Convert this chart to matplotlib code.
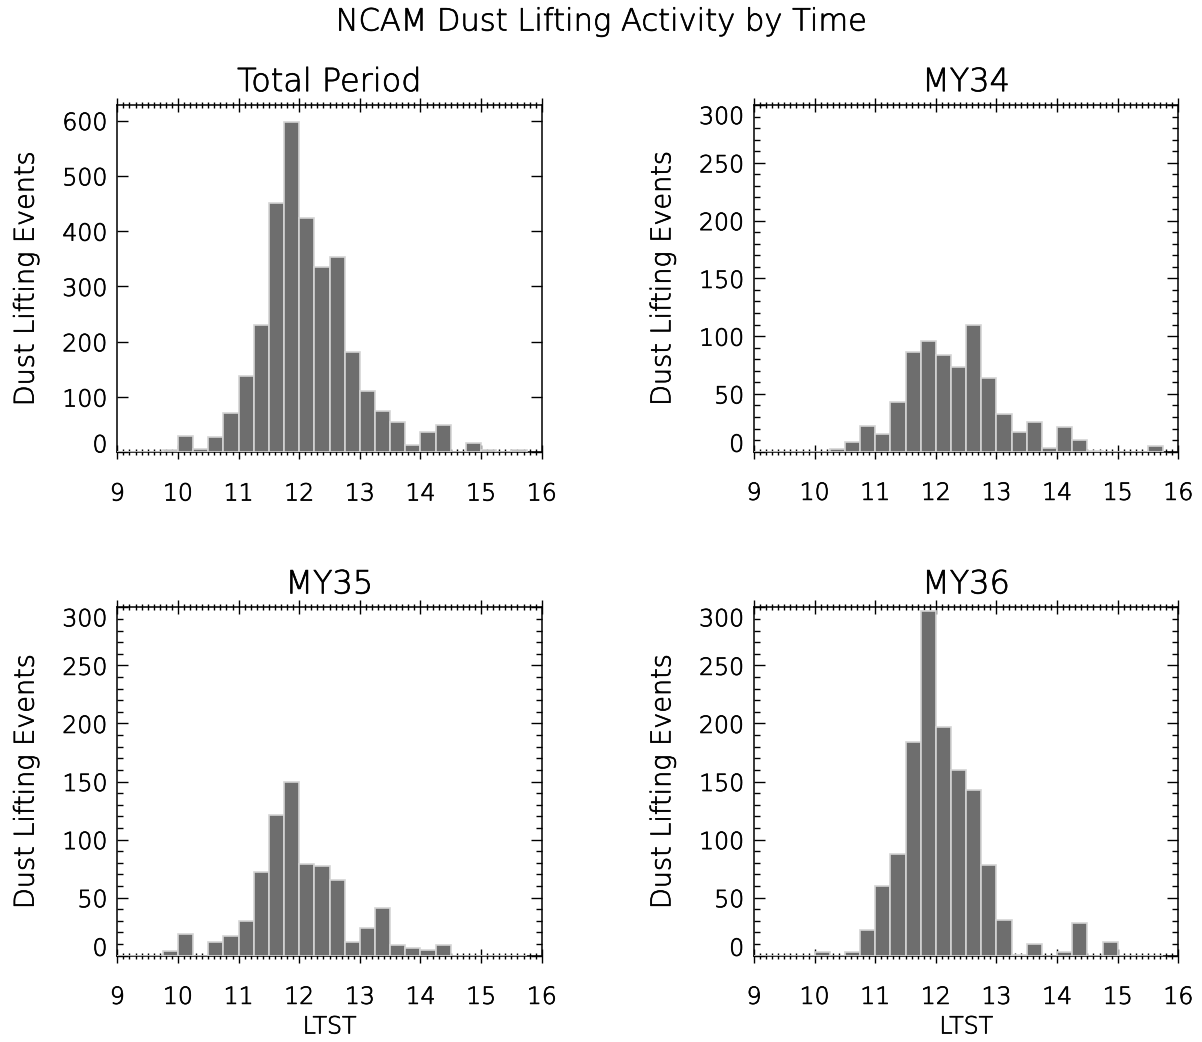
import matplotlib
matplotlib.use('Agg')
import matplotlib.pyplot as plt
import matplotlib.patheffects as pe
from matplotlib.ticker import MultipleLocator

# quarter-hour bins (bin start, LTST hours)
bin_starts = [9.0, 9.25, 9.5, 9.75, 10.0, 10.25, 10.5, 10.75, 11.0, 11.25,
              11.5, 11.75, 12.0, 12.25, 12.5, 12.75, 13.0, 13.25, 13.5, 13.75,
              14.0, 14.25, 14.5, 14.75, 15.0, 15.25, 15.5]

# event counts per bin
total = [0, 0, 0, 4, 30, 6, 28, 72, 138, 230,
         451, 598, 424, 336, 354, 181, 111, 75, 55, 14,
         36, 49, 1, 17, 5, 0, 5]
my34 = [0, 0, 0, 0, 0, 2, 8, 22, 15, 43,
        86, 96, 84, 73, 110, 64, 33, 17, 26, 3,
        21, 10, 1, 0, 0, 0, 5]
my35 = [0, 0, 0, 4, 19, 0, 12, 17, 30, 72,
        121, 150, 79, 77, 65, 12, 24, 41, 9, 7,
        5, 9, 0, 0, 0, 0, 0]
my36 = [0, 0, 0, 0, 3, 0, 3, 22, 60, 88,
        184, 297, 197, 160, 143, 78, 31, 1, 10, 0,
        3, 28, 0, 12, 0, 0, 0]

titles = ['Total Period', 'MY34', 'MY35', 'MY36']
series = [total, my34, my35, my36]
ymax = [628, 300, 300, 300]
ystep = [100, 50, 50, 50]

plt.rcParams['font.family'] = ['DejaVu Sans']
plt.rcParams['font.weight'] = 'light'
plt.rcParams['axes.titleweight'] = 'light'
plt.rcParams['axes.labelweight'] = 'light'

# thin Hershey-like strokes, darkened a bit
ink = [pe.withStroke(linewidth=0.5, foreground='black')]

fig = plt.figure(figsize=(12.02, 10.42), dpi=100)
positions = [
    [0.0976, 0.5659, 0.3531, 0.3333],
    [0.6273, 0.5665, 0.3530, 0.3327],
    [0.0976, 0.0828, 0.3531, 0.3344],
    [0.6273, 0.0828, 0.3530, 0.3344],
]

fig.text(0.5, 1 - 22 / 1042, 'NCAM Dust Lifting Activity by Time',
         ha='center', va='center', fontsize=22, path_effects=ink)

for i, (title, counts) in enumerate(zip(titles, series)):
    ax = fig.add_axes(positions[i])
    ax.bar(bin_starts, counts, width=0.25, align='edge', color='#6e6e6e',
           edgecolor='#d4d4d4', linewidth=1.2, zorder=3)

    ax.set_xlim(9, 16)
    ax.set_ylim(0, ymax[i])
    ax.xaxis.set_major_locator(MultipleLocator(1))
    ax.xaxis.set_minor_locator(MultipleLocator(0.1))
    ax.yaxis.set_major_locator(MultipleLocator(ystep[i]))
    if i == 0:
        ax.yaxis.set_minor_locator(plt.NullLocator())
    else:
        ax.yaxis.set_minor_locator(MultipleLocator(10))

    ax.tick_params(axis='x', which='both', direction='inout', top=True,
                   bottom=True, width=1, labelsize=17, pad=16)
    ax.tick_params(axis='x', which='major', length=10)
    ax.tick_params(axis='x', which='minor', length=5)
    ax.tick_params(axis='y', which='both', direction='in', left=True,
                   right=True, width=1, labelsize=17, pad=7)
    ax.tick_params(axis='y', which='major', length=8)
    ax.tick_params(axis='y', which='minor', length=4)

    for sp in ax.spines.values():
        sp.set_linewidth(1.1)
        sp.set_color('black')

    # end labels sit inside the axis range, like the original
    fig.canvas.draw()
    for lab in ax.get_yticklabels():
        y = lab.get_position()[1]
        lab.set_path_effects(ink)
        if abs(y) < 1e-6:
            lab.set_va('baseline')
        elif abs(y - ymax[i]) < 1e-6:
            lab.set_va('top')
    for lab in ax.get_xticklabels():
        lab.set_path_effects(ink)

    ax.set_title(title, fontsize=23, pad=10, path_effects=ink)
    ax.set_ylabel('Dust Lifting Events', fontsize=19.5, labelpad=17,
                  path_effects=ink)
    if i >= 2:
        ax.set_xlabel('LTST', fontsize=17, labelpad=4, path_effects=ink)

fig.savefig('out.png', dpi=100)
